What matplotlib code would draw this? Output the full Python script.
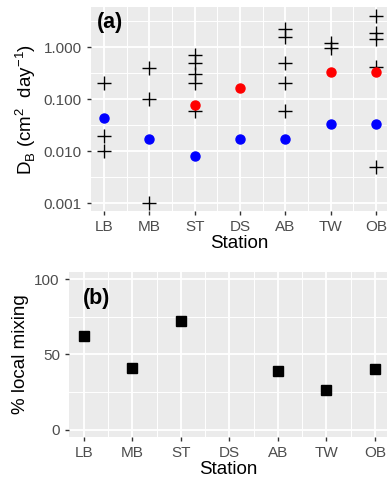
import numpy as np
import matplotlib
matplotlib.use("Agg")
import matplotlib.pyplot as plt

plt.rcParams['font.family'] = ['Liberation Sans', 'DejaVu Sans']

stations = ['LB', 'MB', 'ST', 'DS', 'AB', 'TW', 'OB']

# panel (a): individual estimates (crosses), red and blue dots
cross_vals = {
    'LB': [0.2, 0.02, 0.01],
    'MB': [0.4, 0.1, 0.001],
    'ST': [0.7, 0.5, 0.3, 0.2, 0.06],
    'DS': [],
    'AB': [2.2, 1.55, 0.5, 0.2, 0.06],
    'TW': [1.2, 0.95],
    'OB': [4.0, 1.85, 1.4, 0.41, 0.005],
}
red_vals = [np.nan, np.nan, 0.078, 0.165, np.nan, 0.33, 0.33]
blue_vals = [0.043, 0.017, 0.008, 0.017, 0.017, 0.033, 0.033]

# panel (b)
local_mixing = [62, 41, 72, np.nan, 39, 26, 40]

bg = '#EBEBEB'
txt_gray = '#4D4D4D'


def style_axes(ax):
    ax.set_facecolor(bg)
    for s in ax.spines.values():
        s.set_visible(False)
    ax.tick_params(axis='both', colors='#333333', labelcolor=txt_gray,
                   labelsize=11, length=3, width=1)
    ax.tick_params(which='minor', length=0)
    ax.grid(which='major', color='white', linewidth=1.3)
    ax.grid(which='minor', color='white', linewidth=0.7)
    ax.set_axisbelow(True)


fig = plt.figure(figsize=(3.87, 4.83), dpi=100)

# ---- panel (a)
ax1 = fig.add_axes([0.235, 0.563, 0.765, 0.4225])
style_axes(ax1)
x = np.arange(len(stations))
for i, st in enumerate(stations):
    v = cross_vals[st]
    ax1.plot([i] * len(v), v, ls='none', marker='+', ms=9.5, mew=1.0, color='black')
ax1.plot(x, red_vals, ls='none', marker='o', ms=6.5, color='red')
ax1.plot(x, blue_vals, ls='none', marker='o', ms=6.5, color='blue')
ax1.set_yscale('log')
ax1.set_ylim(10 ** -3.15, 10 ** 0.77)
ax1.set_yticks([0.001, 0.01, 0.1, 1.0])
ax1.set_yticklabels(['0.001', '0.010', '0.100', '1.000'])
ax1.set_yticks([10 ** -2.5, 10 ** -1.5, 10 ** -0.5, 10 ** 0.5], minor=True)
ax1.yaxis.set_minor_formatter(matplotlib.ticker.NullFormatter())
ax1.set_xlim(-0.29, 6.24)
ax1.set_xticks(x)
ax1.set_xticklabels(stations)
ax1.set_xticks(x[:-1] + 0.5, minor=True)
ax1.set_xlabel('Station', fontsize=13.5, labelpad=1)
ax1.set_ylabel(r'D$_\mathregular{B}$ (cm$^\mathregular{2}$  day$^\mathregular{-1}$)',
               fontsize=13.5, labelpad=4)
ax1.text(0.02, 0.975, '(a)', transform=ax1.transAxes, fontsize=15.5,
         fontweight='bold', va='top', ha='left')

# ---- panel (b)
ax2 = fig.add_axes([0.178, 0.0952, 0.822, 0.3418])
style_axes(ax2)
ax2.plot(x, local_mixing, ls='none', marker='s', ms=6.5, color='black')
ax2.set_ylim(-5, 105)
ax2.set_yticks([0, 50, 100])
ax2.set_yticks([25, 75], minor=True)
ax2.set_xlim(-0.31, 6.25)
ax2.set_xticks(x)
ax2.set_xticklabels(stations)
ax2.set_xticks(x[:-1] + 0.5, minor=True)
ax2.set_xlabel('Station', fontsize=13.5, labelpad=1)
ax2.set_ylabel('% local mixing', fontsize=13.5, labelpad=4)
ax2.text(0.045, 0.9, '(b)', transform=ax2.transAxes, fontsize=15.5,
         fontweight='bold', va='top', ha='left')

fig.savefig('out.png', dpi=100)
